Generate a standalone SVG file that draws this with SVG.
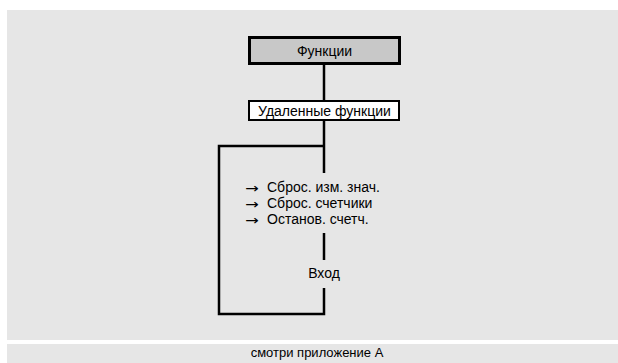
<svg xmlns="http://www.w3.org/2000/svg" width="618" height="363" viewBox="0 0 618 363">
<style>
text{font-family:"Liberation Sans",Arial,sans-serif;font-size:14px;fill:#000}
.c{text-anchor:middle}
.ar{font-family:"DejaVu Sans",sans-serif;font-size:13.5px}
.ln{fill:none;stroke:#000;stroke-width:2.5}
</style>
<rect x="0" y="0" width="618" height="363" fill="#fff"/>
<rect x="7" y="10" width="611" height="330" fill="#e6e6e6"/>
<rect x="7" y="344" width="611" height="19" fill="#e6e6e6"/>
<g id="connectors">
<line class="ln" x1="324" y1="65" x2="324" y2="101"/>
<path class="ln" d="M324 121V173"/>
<path class="ln" d="M324 146H219V314H324V288"/>
<path class="ln" d="M324 233V260"/>
</g>
<g id="node-funktsii">
<rect x="249.5" y="37.5" width="150" height="26" fill="#c8c8c8" stroke="#000" stroke-width="3"/>
<text class="c" x="324.5" y="55.5">Функции</text>
</g>
<g id="node-udalennye">
<rect x="249" y="101" width="150" height="19" fill="#fff" stroke="#000" stroke-width="2"/>
<text class="c" x="324.5" y="115.5">Удаленные функции</text>
</g>
<g id="node-list">
<text class="ar" transform="translate(245,192.5) scale(1.2,1)">→</text>
<text class="ar" transform="translate(245,208.5) scale(1.2,1)">→</text>
<text class="ar" transform="translate(245,224.5) scale(1.2,1)">→</text>
<text x="267" y="192">Сброс. изм. знач.</text>
<text x="267" y="208">Сброс. счетчики</text>
<text x="267" y="224">Останов. счетч.</text>
</g>
<g id="node-vhod">
<text class="c" x="324" y="278">Вход</text>
</g>
<text class="c" x="317" y="357" style="font-size:13px">смотри приложение А</text>
</svg>
